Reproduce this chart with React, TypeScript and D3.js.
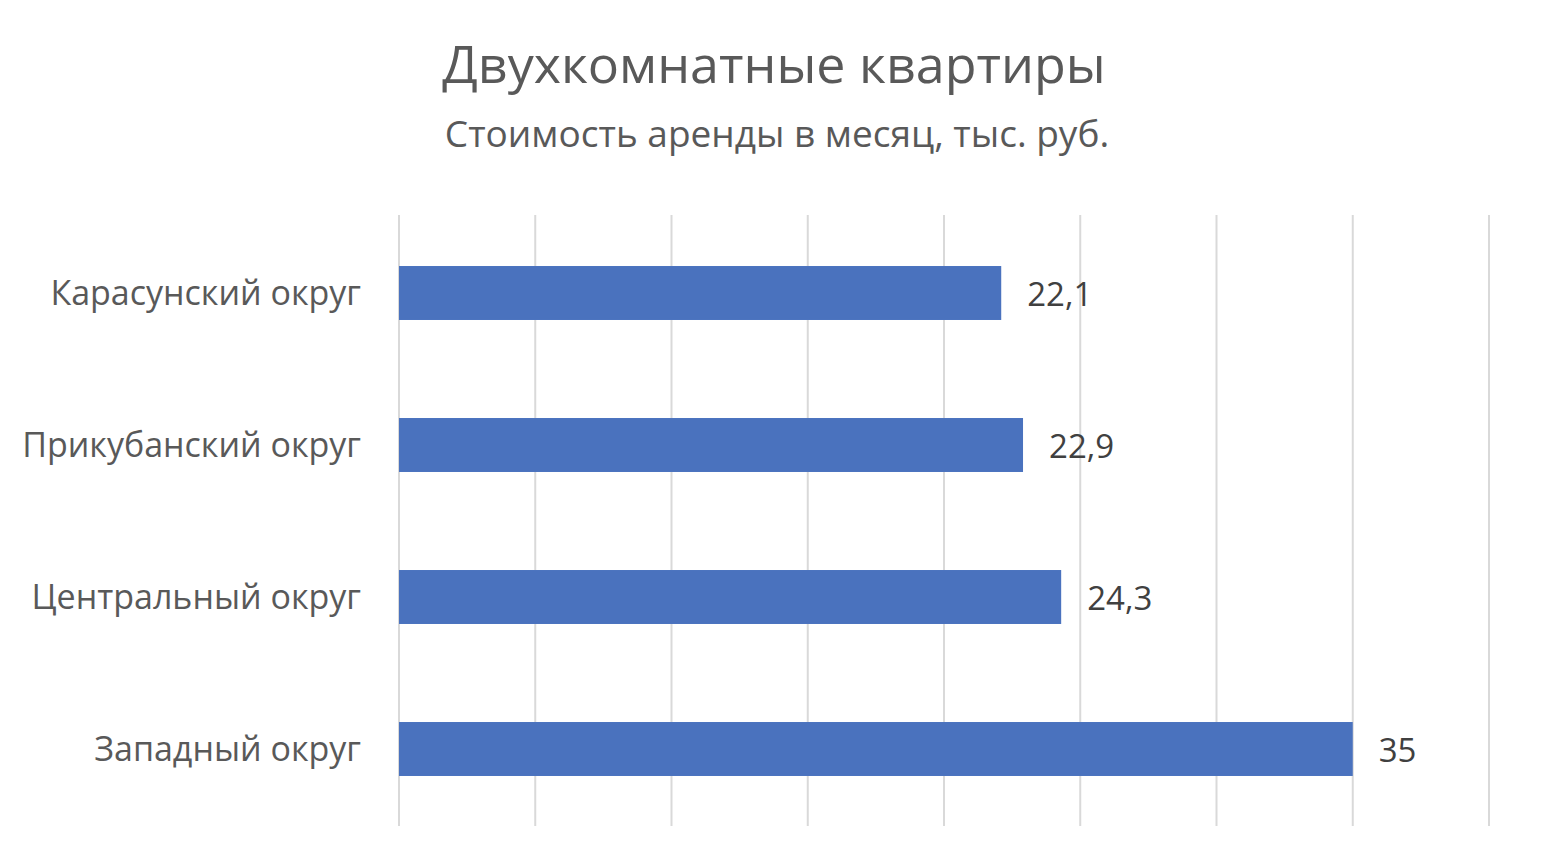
import React, { useEffect, useRef } from 'react'
import * as d3 from 'd3'

const districts = ['Карасунский округ', 'Прикубанский округ', 'Центральный округ', 'Западный округ']
const rents = [22.1, 22.9, 24.3, 35]
const ticks = [0, 5, 10, 15, 20, 25, 30, 35, 40]

export default function App() {
    const ref = useRef<SVGSVGElement>(null)

    useEffect(() => {
        const width = 1548, height = 848
        const font = 'Open Sans, sans-serif'
        const svg = d3.select(ref.current)
        svg.selectAll('*').remove()

        const x = d3.scaleLinear().domain([0, 40]).range([399, 1489])
        const y = d3.scaleBand().domain(districts).range([217, 825]).paddingInner(0.645).paddingOuter(0.3225)

        svg.append('rect').attr('width', width).attr('height', height).attr('fill', '#ffffff')

        svg.append('text')
            .attr('x', 774).attr('y', 83)
            .attr('text-anchor', 'middle')
            .style('font-family', font).style('font-size', '52px')
            .attr('fill', '#595959')
            .text('Двухкомнатные квартиры')

        svg.append('text')
            .attr('x', 777).attr('y', 147)
            .attr('text-anchor', 'middle')
            .style('font-family', font).style('font-size', '37px')
            .attr('fill', '#595959')
            .text('Стоимость аренды в месяц, тыс. руб.')

        svg.append('g').selectAll('line')
            .data(ticks)
            .enter()
            .append('line')
            .attr('x1', d => x(d)).attr('x2', d => x(d))
            .attr('y1', 215).attr('y2', 826)
            .attr('stroke', '#d9d9d9').attr('stroke-width', 2)

        svg.append('g').selectAll('rect')
            .data(rents)
            .enter()
            .append('rect')
            .attr('x', x(0))
            .attr('y', (d, i) => y(districts[i]) as number)
            .attr('width', d => x(d) - x(0))
            .attr('height', y.bandwidth())
            .attr('fill', '#4a72be')

        svg.append('g').selectAll('text')
            .data(rents)
            .enter()
            .append('text')
            .attr('x', d => x(d) + 26)
            .attr('y', (d, i) => (y(districts[i]) as number) + y.bandwidth() / 2)
            .attr('dy', '0.38em')
            .style('font-family', font).style('font-size', '33px')
            .attr('fill', '#404040')
            .text(d => String(d).replace('.', ','))

        svg.append('g').selectAll('text')
            .data(districts)
            .enter()
            .append('text')
            .attr('x', 361)
            .attr('y', d => (y(d) as number) + y.bandwidth() / 2)
            .attr('dy', '0.35em')
            .attr('text-anchor', 'end')
            .style('font-family', font).style('font-size', '34px')
            .attr('fill', '#595959')
            .text(d => d)
    }, [])

    return (
        <svg ref={ref} width={1548} height={848} style={{ position: 'absolute', left: 0, top: 0 }} />
    )
}
